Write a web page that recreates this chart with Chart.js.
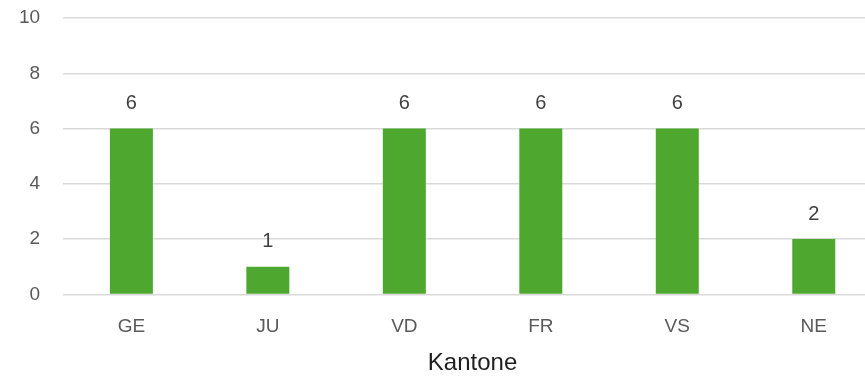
<!DOCTYPE html>
<html>
<head>
<meta charset="utf-8">
<script src="https://cdn.jsdelivr.net/npm/chart.js@4"></script>
<style>
  html, body { margin: 0; padding: 0; background: #fff; overflow: hidden; }
  #wrap { position: relative; width: 882px; height: 379px; }
</style>
</head>
<body>
<div id="wrap"><canvas id="kantoneChart"></canvas></div>
<script>
const kantone = ['GE', 'JU', 'VD', 'FR', 'VS', 'NE'];
const anzahl = [6, 1, 6, 6, 6, 2];
const yTicks = [0, 2, 4, 6, 8, 10];

const fontFamily = "'Liberation Sans', Arial, sans-serif";

// draws the value above each bar
const valueLabels = {
    id: 'valueLabels',
    afterDatasetsDraw(chart) {
        const ctx = chart.ctx;
        const meta = chart.getDatasetMeta(0);
        ctx.save();
        ctx.font = '20px ' + fontFamily;
        ctx.fillStyle = '#404040';
        ctx.textAlign = 'center';
        ctx.textBaseline = 'middle';
        meta.data.forEach(function (bar, i) {
            ctx.fillText(String(anzahl[i]), bar.x, bar.y - 25);
        });
        ctx.restore();
    }
};

const ctx = document.getElementById('kantoneChart').getContext('2d');

new Chart(ctx, {
    type: 'bar',
    data: {
        labels: kantone,
        datasets: [{
            label: 'Kantone',
            data: anzahl,
            backgroundColor: '#4EA72E',
            borderWidth: 0,
            barPercentage: 1,
            categoryPercentage: 0.315
        }]
    },
    options: {
        responsive: true,
        maintainAspectRatio: false,
        animation: false,
        layout: { padding: { top: 18, left: 19, right: 0, bottom: 1 } },
        plugins: {
            legend: { display: false },
            tooltip: { enabled: false }
        },
        scales: {
            x: {
                grid: { color: 'rgba(0,0,0,0)', drawTicks: true, tickLength: 21, tickColor: 'rgba(0,0,0,0)' },
                border: { display: false },
                ticks: {
                    color: '#595959',
                    padding: 0,
                    font: { family: fontFamily, size: 19 }
                },
                title: {
                    display: true,
                    text: 'Kantone',
                    color: '#1f1f1f',
                    padding: { top: 11, bottom: 0 },
                    font: { family: fontFamily, size: 24 }
                }
            },
            y: {
                min: 0,
                max: 10,
                afterBuildTicks: function (axis) {
                    axis.ticks = yTicks.map(function (v) { return { value: v }; });
                },
                grid: { color: '#d9d9d9', lineWidth: 1.5, drawTicks: true, tickLength: 23, tickColor: 'rgba(0,0,0,0)' },
                border: { display: false },
                ticks: {
                    color: '#595959',
                    padding: 0,
                    font: { family: fontFamily, size: 19 }
                }
            }
        }
    },
    plugins: [valueLabels]
});
</script>
</body>
</html>
